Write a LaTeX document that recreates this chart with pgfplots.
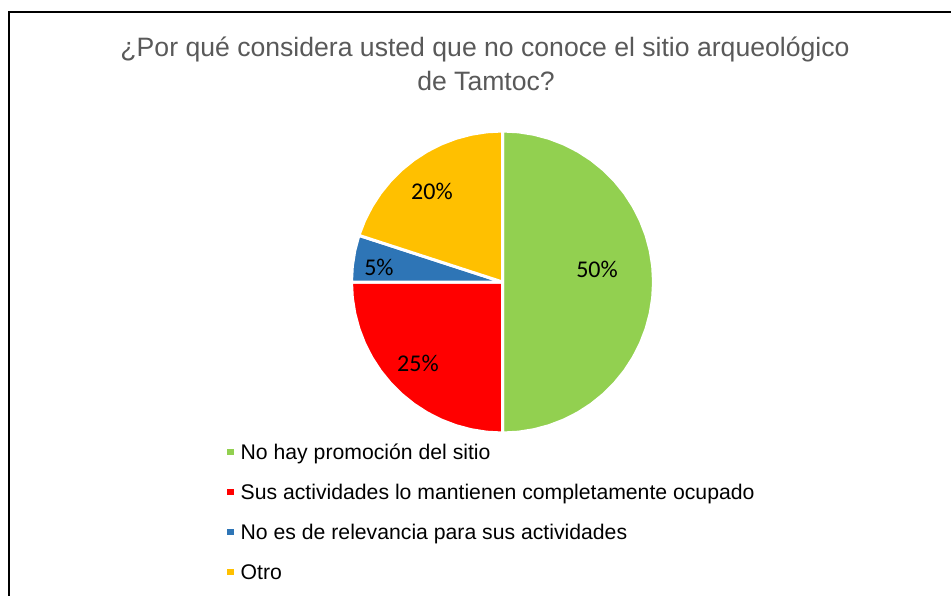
\documentclass[border=0pt]{standalone}
\usepackage{pgfplots}
\pgfplotsset{compat=1.18}
\usepackage{fontspec}
\setmainfont{Liberation Sans}
\newfontfamily\carlito{Carlito}
\definecolor{cgreen}{HTML}{92D050}
\definecolor{cred}{HTML}{FF0000}
\definecolor{cblue}{HTML}{2E75B6}
\definecolor{cyellow}{HTML}{FFC000}
\definecolor{ctitle}{HTML}{595959}
\begin{document}
\begin{tikzpicture}[x=1pt,y=1pt]
\begin{scope}
\clip (0,0) rectangle (951,-596);
\draw[line width=2pt] (9,-1000) -- (9,-12) -- (1000,-12);
\end{scope}
\node[anchor=base, text=ctitle, font=\fontsize{26.6}{32}\selectfont, inner sep=0pt] at (485,-57) {¿Por qué considera usted que no conoce el sitio arqueológico};
\node[anchor=base, text=ctitle, font=\fontsize{26.6}{32}\selectfont, inner sep=0pt] at (486,-91) {de Tamtoc?};
\begin{axis}[
  at={(502.5pt,-282pt)}, anchor=center,
  x=151pt, y=151pt,
  xmin=-1, xmax=1, ymin=-1, ymax=1,
  hide axis, clip=false,
  pie/.style={draw=white, line width=3pt, line join=round, data cs=polar},
  legend image code/.code={\fill[#1, draw=none] (0pt,-1pt) rectangle (6.5pt,5.5pt);},
  legend style={at={(-0.4123,-0.0364)}, anchor=north west, draw=none, fill=none,
    inner sep=0pt, row sep=20pt, column sep=7pt,
    font=\fontsize{21.2}{25}\selectfont,
    nodes={inner sep=0pt, text height=15pt, text depth=5pt},
    cells={anchor=base west}},
  legend cell align=left,
]
% No hay promocion del sitio: 50%
\addplot[pie, fill=cgreen] coordinates {(0,0) (90,1) (84,1) (78,1) (72,1) (66,1) (60,1) (54,1) (48,1) (42,1) (36,1) (30,1) (24,1) (18,1) (12,1) (6,1) (0,1) (-6,1) (-12,1) (-18,1) (-24,1) (-30,1) (-36,1) (-42,1) (-48,1) (-54,1) (-60,1) (-66,1) (-72,1) (-78,1) (-84,1) (-90,1)} -- cycle;
\addlegendentry{No hay promoción del sitio}
% Sus actividades...: 25%
\addplot[pie, fill=cred] coordinates {(0,0) (-90,1) (-96,1) (-102,1) (-108,1) (-114,1) (-120,1) (-126,1) (-132,1) (-138,1) (-144,1) (-150,1) (-156,1) (-162,1) (-168,1) (-174,1) (-180,1)} -- cycle;
\addlegendentry{Sus actividades lo mantienen completamente ocupado}
% No es de relevancia: 5%
\addplot[pie, fill=cblue] coordinates {(0,0) (180,1) (174,1) (168,1) (162,1)} -- cycle;
\addlegendentry{No es de relevancia para sus actividades}
% Otro: 20%
\addplot[pie, fill=cyellow] coordinates {(0,0) (162,1) (156,1) (150,1) (144,1) (138,1) (132,1) (126,1) (120,1) (114,1) (108,1) (102,1) (96,1) (90,1)} -- cycle;
\addlegendentry{Otro}
\node[font=\carlito\fontsize{24}{28}\selectfont] at (axis cs:0.626,0.086) {50\%};
\node[font=\carlito\fontsize{24}{28}\selectfont] at (axis cs:-0.560,-0.536) {25\%};
\node[font=\carlito\fontsize{24}{28}\selectfont] at (axis cs:-0.818,0.099) {5\%};
\node[font=\carlito\fontsize{24}{28}\selectfont] at (axis cs:-0.467,0.603) {20\%};
\end{axis}
\pgfresetboundingbox
\path[use as bounding box] (0,0) rectangle (951,-596);
\end{tikzpicture}
\end{document}
